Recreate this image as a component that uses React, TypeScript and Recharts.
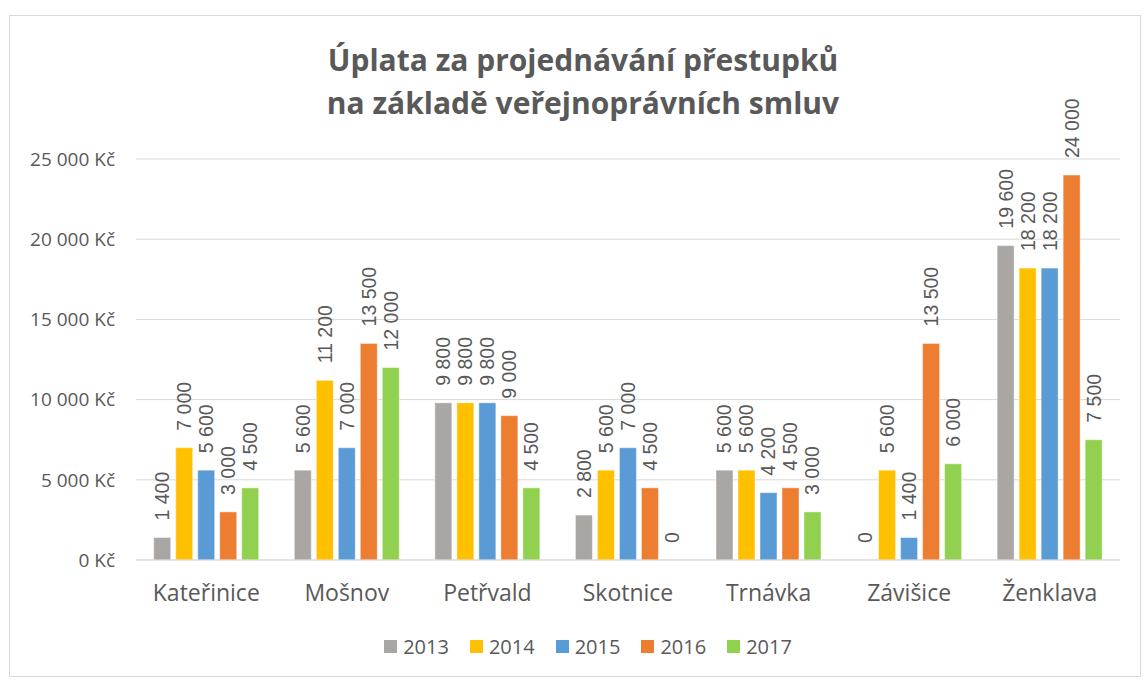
import { BarChart, Bar, CartesianGrid, XAxis, YAxis, LabelList } from "recharts"

const obce = ["Kateřinice", "Mošnov", "Petřvald", "Skotnice", "Trnávka", "Závišice", "Ženklava"]
const roky = ["2013", "2014", "2015", "2016", "2017"]
const barvy = ["#AAA6A4", "#FFC000", "#5B9BD5", "#ED7D31", "#92D050"]

const r2013 = [1400, 5600, 9800, 2800, 5600, 0, 19600]
const r2014 = [7000, 11200, 9800, 5600, 5600, 5600, 18200]
const r2015 = [5600, 7000, 9800, 7000, 4200, 1400, 18200]
const r2016 = [3000, 13500, 9000, 4500, 4500, 13500, 24000]
const r2017 = [4500, 12000, 4500, 0, 3000, 6000, 7500]
const yTicks = [0, 5000, 10000, 15000, 20000, 25000]

const series = [r2013, r2014, r2015, r2016, r2017]
const data = obce.map((name, i) => {
  const row: Record<string, string | number> = { name }
  roky.forEach((rok, j) => (row["r" + rok] = series[j][i]))
  return row
})

const fmt = (v: number) => String(v).replace(/\B(?=(\d{3})+(?!\d))/g, " ")
const text = "#595959"
const font = "'Open Sans', sans-serif"

const rotLabel = (props: any) => {
  const { x, y, width, value } = props
  const cx = Number(x) + Number(width) / 2
  const ty = Number(y) - 17
  return (
    <text
      x={cx}
      y={ty}
      transform={`rotate(-90 ${cx} ${ty})`}
      textAnchor="start"
      dominantBaseline="central"
      fill={text}
      fontSize={19.5}
      fontFamily="'Liberation Sans', Arial, sans-serif"
    >
      {fmt(Number(value ?? 0))}
    </text>
  )
}

// custom shape, so bars with value 0 still get their label
const barShape = (p: any) => (
  <rect
    x={p.x}
    y={p.y}
    width={p.width}
    height={Math.max(0, p.height)}
    fill={p.fill}
    stroke="#ffffff"
    strokeOpacity={0.45}
    strokeWidth={1}
  />
)

function LegendBox() {
  return (
    <div
      style={{
        position: "absolute",
        left: 0,
        top: 633,
        width: 1176,
        display: "flex",
        justifyContent: "center",
        gap: 21,
        fontFamily: font,
        fontSize: 20,
        color: text,
      }}
    >
      {roky.map((r, i) => (
        <div key={r} style={{ display: "flex", alignItems: "center" }}>
          <span style={{ width: 13, height: 13, background: barvy[i], marginRight: 6, display: "inline-block" }} />
          {r}
        </div>
      ))}
    </div>
  )
}

export default function App() {
  return (
    <div style={{ position: "absolute", left: 0, top: 0, width: 1147, height: 680, background: "#fff" }}>
      <div style={{ position: "absolute", left: 9, top: 15, width: 1130, height: 660, border: "1px solid #d9d9d9" }} />
      <div
        style={{
          position: "absolute",
          left: 0,
          top: 38,
          width: 1166,
          textAlign: "center",
          fontFamily: font,
          fontWeight: 700,
          fontSize: 30,
          lineHeight: "43px",
          color: text,
        }}
      >
        Úplata za projednávání přestupků
        <br />
        na základě veřejnoprávních smluv
      </div>
      <BarChart
        width={1147}
        height={680}
        data={data}
        margin={{ top: 159, right: 27, left: 0, bottom: 0 }}
        barCategoryGap="12.6%"
        barGap={5}
        style={{ position: "absolute", left: 0, top: 0 }}
      >
        <CartesianGrid vertical={false} stroke="#d9d9d9" />
        <XAxis
          dataKey="name"
          tickLine={false}
          axisLine={{ stroke: "#d9d9d9" }}
          height={120}
          tickMargin={19}
          tick={{ fill: text, fontSize: 23, fontFamily: font }}
        />
        <YAxis
          width={136}
          domain={[0, 25000]}
          ticks={yTicks}
          tickLine={false}
          axisLine={false}
          tickSize={0}
          tickMargin={21}
          tickFormatter={(v: number) => `${fmt(v)} Kč`}
          tick={{ fill: text, fontSize: 19, fontFamily: font }}
        />
        {roky.map((r, i) => (
          <Bar key={r} dataKey={"r" + r} fill={barvy[i]} shape={barShape} isAnimationActive={false}>
            <LabelList dataKey={"r" + r} content={rotLabel} />
          </Bar>
        ))}
      </BarChart>
      <LegendBox />
    </div>
  )
}
